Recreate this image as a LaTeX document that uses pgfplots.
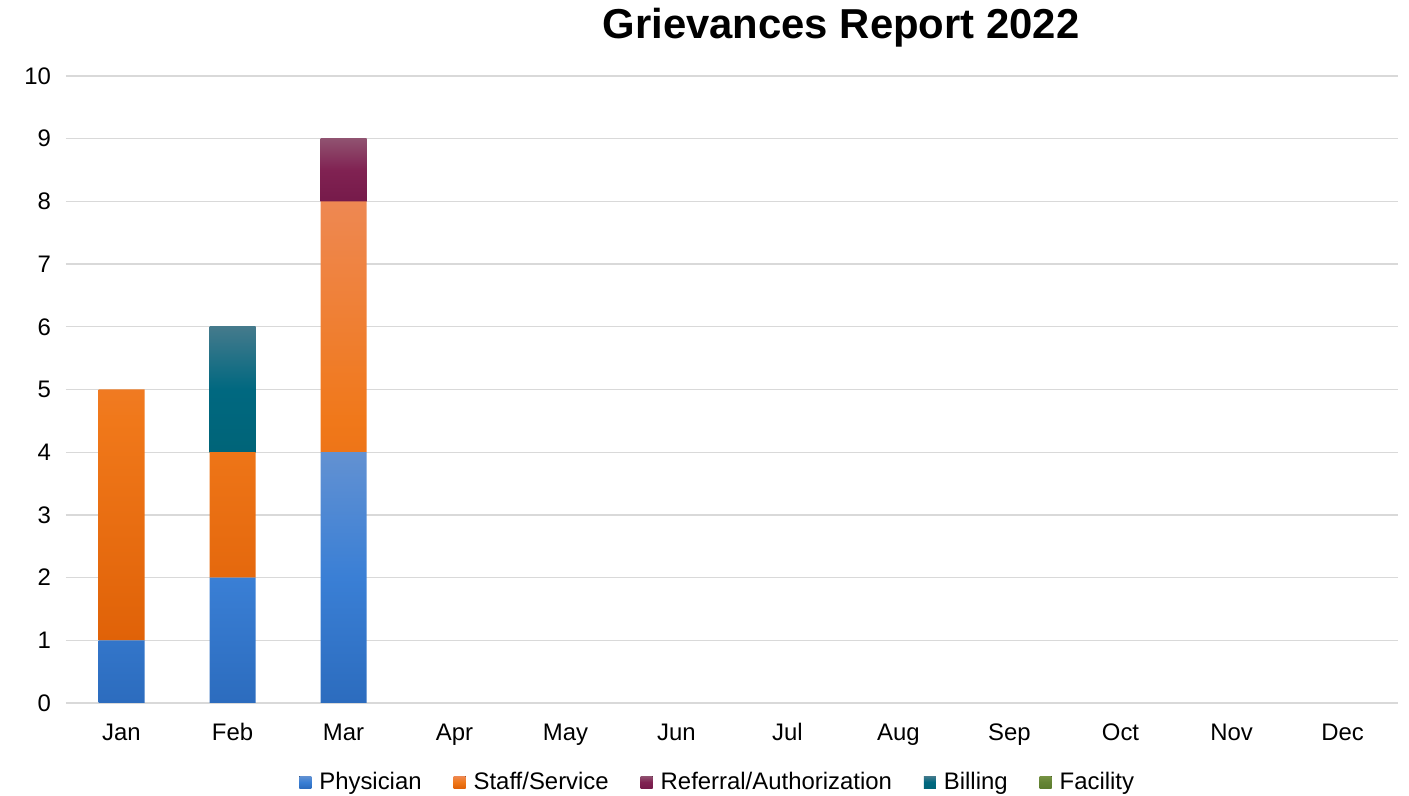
\documentclass[border=0pt]{standalone}
\usepackage{pgfplots}
\pgfplotsset{compat=1.18}
\usepackage{fontspec}
\setmainfont{Liberation Sans}
\definecolor{gridc}{HTML}{D9D9D9}
\begin{document}
\begin{tikzpicture}
\path[use as bounding box] (0,0) rectangle (704.5bp,398bp);
\node[font=\fontsize{21}{25}\selectfont\bfseries] at (420.5bp,384bp) {Grievances Report 2022};
\begin{axis}[
  at={(33bp,46.5bp)}, anchor=south west,
  scale only axis, width=666bp, height=313.5bp,
  ybar stacked, bar width=23bp,
  xmin=-0.5, xmax=11.5, ymin=0, ymax=10,
  xtick={0,...,11},
  xticklabels={Jan,Feb,Mar,Apr,May,Jun,Jul,Aug,Sep,Oct,Nov,Dec},
  ytick={0,...,10},
  ymajorgrids, major grid style={color=gridc, line width=0.65bp},
  axis line style={draw=none}, tick style={draw=none},
  tick label style={font=\fontsize{12}{14}\selectfont},
  /pgf/number format/assume math mode=true,
  yticklabel style={xshift=-4bp},
  xticklabel style={yshift=-6bp, text height=9bp, text depth=2.5bp},
  legend columns=-1,
  legend style={at={(0.49,-0.126)}, anchor=center, draw=none,
    font=\fontsize{12}{14}\selectfont,
    /tikz/every odd column/.append style={column sep=2bp},
    /tikz/every even column/.append style={column sep=14bp}},
  legend image code/.code={\fill[#1] (0bp,-3bp) rectangle (6bp,3bp);},
]
\addplot[draw=none, top color={rgb,255:red,98;green,145;blue,210}, bottom color={rgb,255:red,44;green,108;blue,190}, middle color={rgb,255:red,58;green,127;blue,213}]
 coordinates {(0,1) (1,2) (2,4) (3,0) (4,0) (5,0) (6,0) (7,0) (8,0) (9,0) (10,0) (11,0)};
\addlegendentry{Physician}
\addplot[draw=none, top color={rgb,255:red,238;green,136;blue,82}, bottom color={rgb,255:red,224;green,98;blue,8}, middle color={rgb,255:red,240;green,120;blue,26}]
 coordinates {(0,4) (1,2) (2,4) (3,0) (4,0) (5,0) (6,0) (7,0) (8,0) (9,0) (10,0) (11,0)};
\addlegendentry{Staff/Service}
\addplot[draw=none, top color={rgb,255:red,144;green,82;blue,112}, bottom color={rgb,255:red,118;green,26;blue,74}, middle color={rgb,255:red,128;green,34;blue,82}]
 coordinates {(0,0) (1,0) (2,1) (3,0) (4,0) (5,0) (6,0) (7,0) (8,0) (9,0) (10,0) (11,0)};
\addlegendentry{Referral/Authorization}
\addplot[draw=none, top color={rgb,255:red,68;green,122;blue,140}, bottom color={rgb,255:red,0;green,100;blue,120}, middle color={rgb,255:red,0;green,104;blue,128}]
 coordinates {(0,0) (1,2) (2,0) (3,0) (4,0) (5,0) (6,0) (7,0) (8,0) (9,0) (10,0) (11,0)};
\addlegendentry{Billing}
\addplot[draw=none, top color={rgb,255:red,118;green,146;blue,68}, bottom color={rgb,255:red,92;green,124;blue,46}, middle color={rgb,255:red,100;green,132;blue,52}]
 coordinates {(0,0) (1,0) (2,0) (3,0) (4,0) (5,0) (6,0) (7,0) (8,0) (9,0) (10,0) (11,0)};
\addlegendentry{Facility}
\end{axis}
\end{tikzpicture}
\end{document}
